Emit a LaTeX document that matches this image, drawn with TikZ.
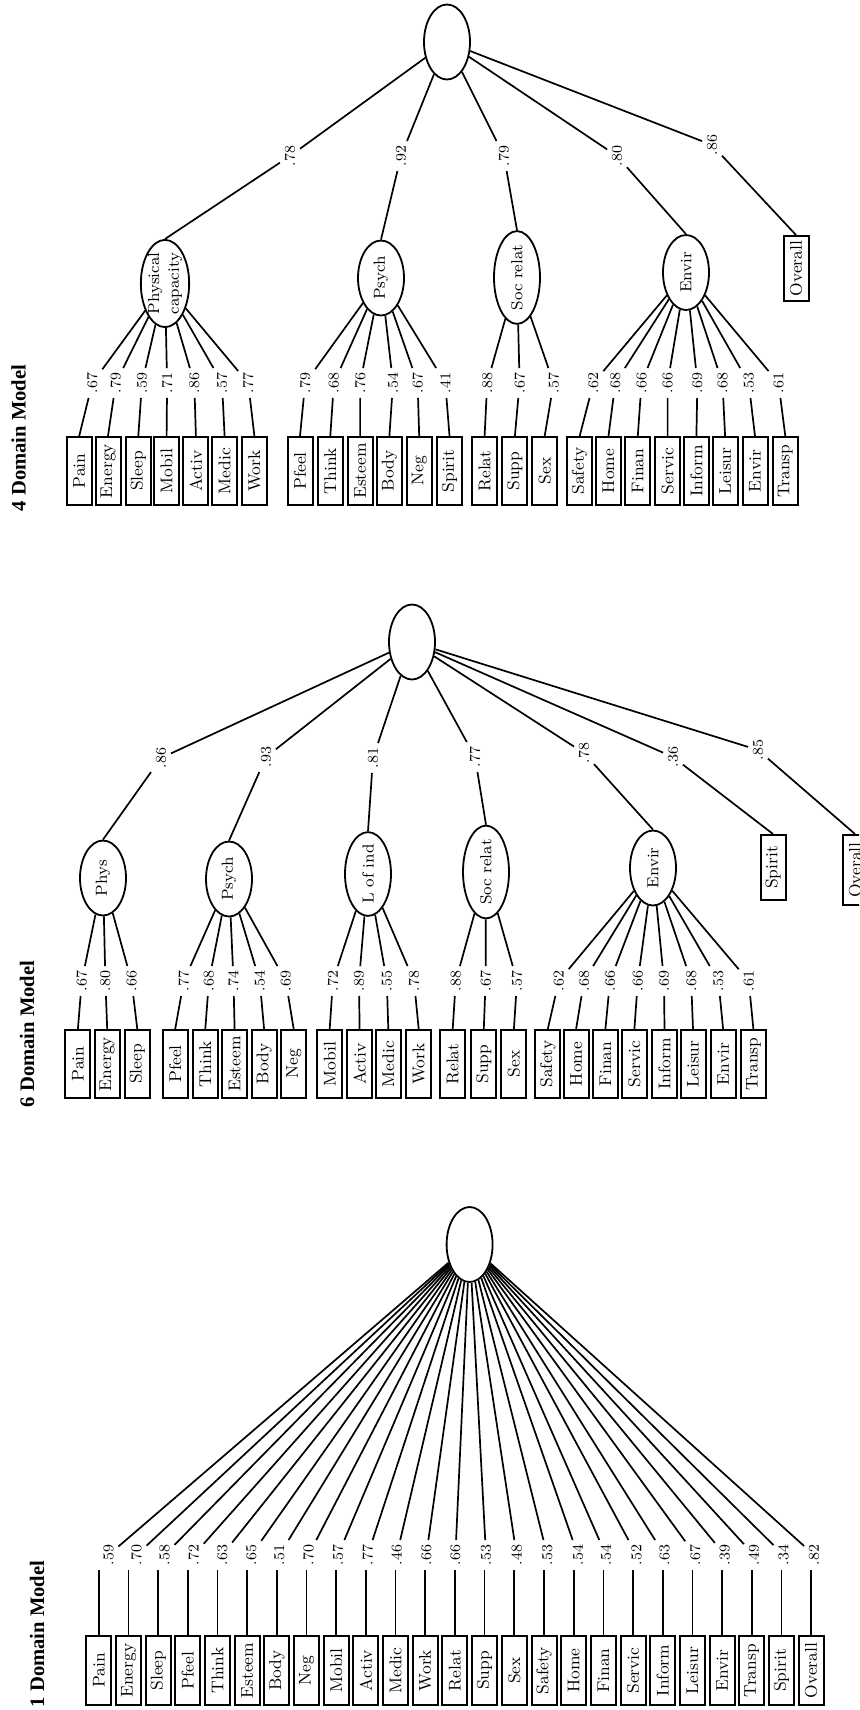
\documentclass[tikz,border=0pt]{standalone}
\usepackage{fontspec}
\newfontfamily\headfont{Liberation Serif}
\usetikzlibrary{shapes.geometric}
\newcommand{\vtext}[1]{\rotatebox{90}{#1}}
\tikzset{
  conn/.style={line width=0.85pt},
  latent/.style={draw, line width=0.9pt, ellipse, minimum width=23pt, minimum height=37.5pt,
    inner sep=0pt, font=\fontsize{8}{9}\selectfont},
  itembox/.style={draw, line width=1pt, rectangle, minimum width=12.5pt, minimum height=34pt,
    inner sep=0pt, font=\fontsize{8.5}{10}\selectfont},
  itemboxsp/.style={itembox, minimum height=34.5pt,
    font=\fontsize{8.5}{10}\selectfont\addfontfeatures{LetterSpace=8}},
  loading/.style={inner sep=2.2pt, font=\fontsize{7.5}{8}\selectfont},
  heading/.style={font=\headfont\bfseries\fontsize{10.3}{12}\selectfont},
}
\begin{document}
\begin{tikzpicture}[x=0.5pt, y=-0.5pt]
\useasboundingbox (0,0) rectangle (859,1710);
\clip (0,0) rectangle (859,1710);

% ---------- headings ----------
\node[heading] (h4) at (18.5,438) {\vtext{4 Domain Model}};
\node[heading] (h6) at (27,1034) {\vtext{6 Domain Model}};
\node[heading] (h1) at (37,1634) {\vtext{1 Domain Model}};

% ---------- 4 domain model ----------
\node[latent] (r4) at (447,42) {};
\node[latent] (P4) at (165,283.5) {\vtext{\shortstack{Physical\\capacity}}};
\node[latent] (S4) at (381,278) {\vtext{Psych}};
\node[latent] (R4) at (517,277.5) {\vtext{Soc relat}};
\node[latent] (E4) at (686,272.5) {\vtext{Envir}};
\node[itembox, minimum height=32.5pt] (O4) at (796,268.5) {\vtext{Overall}};

\node[loading] (tP4) at (290,156) {\vtext{.78}};
\node[loading] (tS4) at (401,156) {\vtext{.92}};
\node[loading] (tR4) at (504,156) {\vtext{.79}};
\node[loading] (tE4) at (617,156) {\vtext{.80}};
\node[loading] (tO4) at (712,145) {\vtext{.86}};

\draw[conn] (P4.north) -- (tP4) -- (r4);
\draw[conn] (S4.north) -- (tS4) -- (r4);
\draw[conn] (R4.north) -- (tR4) -- (r4);
\draw[conn] (E4.north) -- (tE4) -- (r4);
\draw[conn] (O4.north) -- (tO4) -- (r4);

\foreach \n/\tx/\bx/\lx/\lv/\fc in {
  1/Pain/79.2/92.3/.67/P4, 2/Energy/108/115.8/.79/P4, 3/Sleep/138.3/142/.59/P4,
  4/Mobil/166.6/167.1/.71/P4, 5/Activ/195.9/194.3/.86/P4, 6/Medic/224.6/222/.57/P4,
  7/Work/254.4/248.2/.77/P4,
  8/Pfeel/300/305.2/.79/S4, 9/Think/330.3/333.9/.68/S4, 10/Esteem/360.1/360.1/.76/S4,
  11/Body/389.4/393/.54/S4, 12/Neg/419.2/417.6/.67/S4, 13/Spirit/449.5/445.3/.41/S4,
  14/Relat/484.6/487.2/.88/R4, 15/Supp/514.9/519.6/.67/R4, 16/Sex/544.7/553.6/.57/R4,
  17/Safety/579.7/593.4/.62/E4, 18/Home/608.5/615.3/.68/E4, 19/Finan/637.8/641.5/.66/E4,
  20/Servic/667.6/667.6/.66/E4, 21/Inform/696.4/697.4/.69/E4, 22/Leisur/725.1/722.5/.68/E4,
  23/Envir/755/748.7/.53/E4, 24/Transp/785.3/778.5/.61/E4}
{
  \node[itembox] (b4-\n) at (\bx,471) {\vtext{\tx}};
  \node[loading] (l4-\n) at (\lx,383) {\vtext{\lv}};
  \draw[conn] (b4-\n.north) -- (l4-\n) -- (\fc);
}

% ---------- 6 domain model ----------
\node[latent] (r6) at (412,642) {};
\node[latent] (P6) at (103,878) {\vtext{Phys}};
\node[latent] (S6) at (229,879) {\vtext{Psych}};
\node[latent] (L6) at (368,874) {\vtext{L of ind}};
\node[latent] (R6) at (486,872) {\vtext{Soc relat}};
\node[latent] (E6) at (653,868) {\vtext{Envir}};
\node[itembox, minimum height=32.5pt] (Sp6) at (773,867.5) {\vtext{Spirit}};
\node[itembox, minimum height=35pt] (O6) at (855,870) {\vtext{Overall}};

\node[loading] (tP6) at (161,758) {\vtext{.86}};
\node[loading] (tS6) at (266,757) {\vtext{.93}};
\node[loading] (tL6) at (373,758) {\vtext{.81}};
\node[loading] (tR6) at (475,757) {\vtext{.77}};
\node[loading] (tE6) at (584,753) {\vtext{.78}};
\node[loading] (tSp6) at (673,757) {\vtext{.36}};
\node[loading] (tO6) at (758,750) {\vtext{.85}};

\draw[conn] (P6.north) -- (tP6) -- (r6);
\draw[conn] (S6.north) -- (tS6) -- (r6);
\draw[conn] (L6.north) -- (tL6) -- (r6);
\draw[conn] (R6.north) -- (tR6) -- (r6);
\draw[conn] (E6.north) -- (tE6) -- (r6);
\draw[conn] (Sp6.north) -- (tSp6) -- (r6);
\draw[conn] (O6.north) -- (tO6) -- (r6);

\foreach \n/\tx/\bx/\lx/\lv/\fc in {
  1/Pain/77.9/81.8/.67/P6, 2/Energy/107.2/105.4/.80/P6, 3/Sleep/137.3/131.5/.66/P6,
  4/Pfeel/175.2/183.8/.77/S6, 5/Think/205.3/208.9/.68/S6, 6/Esteem/234.6/233.5/.74/S6,
  7/Body/264.1/259.7/.54/S6, 8/Neg/293.7/285.8/.69/S6,
  9/Mobil/329.7/332.9/.72/L6, 10/Activ/359.6/359/.89/L6, 11/Medic/388.3/386.8/.55/L6,
  12/Work/418.7/414/.78/L6,
  13/Relat/452.7/455.8/.88/R6, 14/Supp/483.8/485.6/.67/R6, 15/Sex/513.9/517/.57/R6,
  16/Safety/547.8/558.8/.62/E6, 17/Home/576.1/584/.68/E6, 18/Finan/605.4/610/.66/E6,
  19/Servic/634.4/637.8/.66/E6, 20/Inform/664.5/664/.69/E6, 21/Leisur/693/691.2/.68/E6,
  22/Envir/723.1/718.4/.53/E6, 23/Transp/753.4/748.7/.61/E6}
{
  \node[itembox] (b6-\n) at (\bx,1064) {\vtext{\tx}};
  \node[loading] (l6-\n) at (\lx,981) {\vtext{\lv}};
  \draw[conn] (b6-\n.north) -- (l6-\n) -- (\fc);
}

% ---------- 1 domain model ----------
\node[latent] (r1) at (469.6,1244.5) {};

\foreach \n/\tx/\lx/\lv in {
  1/Pain/108.5/.59, 2/Energy/136.5/.70, 3/Sleep/164.6/.58, 4/Pfeel/193.7/.72,
  5/Think/222.2/.63, 6/Esteem/251.3/.65, 7/Body/279.4/.51, 8/Neg/308.5/.70,
  9/Mobil/338/.57, 10/Activ/367.7/.77, 11/Medic/396.7/.46, 12/Work/426.3/.66,
  13/Relat/455.4/.66, 14/Supp/486/.53, 15/Sex/516.6/.48, 16/Safety/547.2/.53,
  17/Home/577.9/.54, 18/Finan/605.9/.54, 19/Servic/636.5/.52, 20/Inform/664.5/.63,
  21/Leisur/695.2/.67, 22/Envir/724.8/.39, 23/Transp/753.9/.49, 24/Spirit/783.5/.34,
  25/Overall/814.1/.82}
{
  \pgfmathsetmacro\bx{98.8+29.68*(\n-1)}
  \node[itemboxsp] (b1-\n) at (\bx,1670.5) {\vtext{\tx}};
  \node[loading] (l1-\n) at (\lx,1555) {\vtext{\lv}};
  \draw[conn] (b1-\n.north) -- (b1-\n.north |- l1-\n.south);
  \draw[conn] (l1-\n) -- (r1);
}
\end{tikzpicture}
\end{document}
